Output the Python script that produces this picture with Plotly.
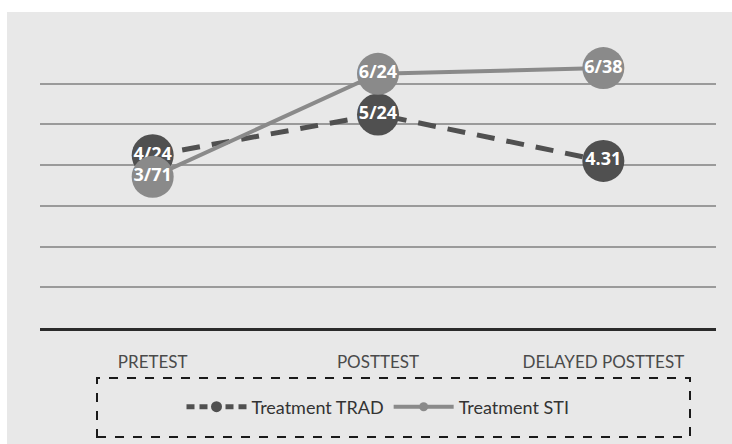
import plotly.graph_objects as go

categories = ["PRETEST", "POSTTEST", "DELAYED POSTTEST"]
trad_values = [4.24, 5.24, 4.1]
trad_labels = ["4/24", "5/24", "4.31"]
sti_values = [3.71, 6.24, 6.38]
sti_labels = ["3/71", "6/24", "6/38"]
series_names = ["Treatment TRAD", "Treatment STI"]

TRAD_C = "#505050"
STI_C = "#8a8a8a"

fig = go.Figure()
fig.add_trace(go.Scatter(
    x=categories, y=trad_values, mode="lines+markers+text",
    text=trad_labels, textposition="middle center",
    textfont=dict(family="Open Sans", size=18, color="white", weight="bold"),
    line=dict(color=TRAD_C, width=5, dash="18px,12px"),
    marker=dict(size=42, color=TRAD_C), showlegend=False, cliponaxis=False))
fig.add_trace(go.Scatter(
    x=categories, y=sti_values, mode="lines+markers+text",
    text=sti_labels, textposition="middle center",
    textfont=dict(family="Open Sans", size=18, color="white", weight="bold"),
    line=dict(color=STI_C, width=4),
    marker=dict(size=42, color=STI_C), showlegend=False, cliponaxis=False))
# legend entries
fig.add_trace(go.Scatter(x=[None], y=[None], mode="lines+markers", name=series_names[0],
                         line=dict(color=TRAD_C, width=5, dash="8px,5px"),
                         marker=dict(size=11, color=TRAD_C)))
fig.add_trace(go.Scatter(x=[None], y=[None], mode="lines+markers", name=series_names[1],
                         line=dict(color=STI_C, width=4),
                         marker=dict(size=9, color=STI_C)))

L, R, T, B = 40, 16, 42, 116
W, H = 732, 444
pw, ph = W - L - R, H - T - B

def px(x):
    return (x - L) / pw

def py(y):
    return (H - B - y) / ph

# white top and left strips over the grey page
fig.add_shape(type="rect", xref="paper", yref="paper", layer="below",
              x0=px(0), x1=px(732), y0=py(12), y1=py(0),
              fillcolor="white", line=dict(width=0))
fig.add_shape(type="rect", xref="paper", yref="paper", layer="below",
              x0=px(0), x1=px(7), y0=py(444), y1=py(0),
              fillcolor="white", line=dict(width=0))
fig.add_shape(type="rect", xref="paper", yref="paper",
              x0=px(97), x1=px(690), y0=py(437), y1=py(378),
              fillcolor="rgba(0,0,0,0)", line=dict(color="#1a1a1a", width=2, dash="dash"))

fig.update_layout(
    width=W, height=H,
    margin=dict(l=L, r=R, t=T, b=B, autoexpand=False),
    paper_bgcolor="#e8e8e8", plot_bgcolor="rgba(0,0,0,0)",
    font=dict(family="Lato", size=17, color="#444444"),
    legend=dict(orientation="h", x=0.5, xanchor="center", y=py(407), yanchor="middle",
                font=dict(family="Lato", size=18, color="#333333"),
                bgcolor="rgba(0,0,0,0)", itemwidth=60, tracegroupgap=0),
    xaxis=dict(range=[-0.5, 2.5], automargin=False, showgrid=False, showline=True,
               linecolor="#2b2b2b", linewidth=3,
               ticks="outside", tickcolor="rgba(0,0,0,0)", ticklen=17,
               tickfont=dict(family="Lato", size=17, color="#4a4a4a"),
               zeroline=False),
    yaxis=dict(range=[0, 7.02], dtick=1, showticklabels=False, showgrid=True,
               automargin=False,
               gridcolor="#9a9a9a", gridwidth=1.5, zeroline=False, showline=False),
)

fig.write_html("out.html")
